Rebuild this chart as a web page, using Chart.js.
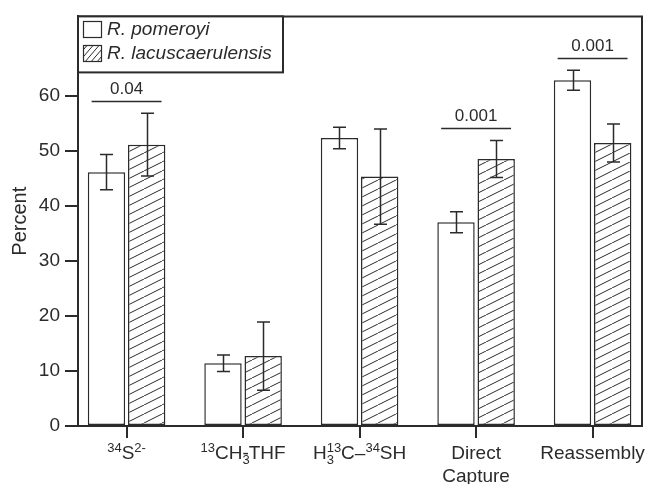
<!DOCTYPE html>
<html>
<head>
<meta charset="utf-8">
<script src="https://cdn.jsdelivr.net/npm/chart.js@4/dist/chart.umd.min.js"></script>
<style>
  html,body{margin:0;padding:0;background:#fff;}
  #c{display:block;}
</style>
</head>
<body>
<canvas id="c" width="648" height="484"></canvas>
<script>
// Data
const seriesNames = ["R. pomeroyi", "R. lacuscaerulensis"];
const positions = [0, 1, 2, 3, 4];
const pomeroyi = [46.1, 11.4, 52.3, 37.0, 62.8];
const pomeroyiErr = [3.2, 1.5, 1.95, 1.9, 1.8];
const lacus = [51.1, 12.7, 45.3, 48.5, 51.4];
const lacusErr = [5.7, 6.2, 8.65, 3.35, 3.45];
const yTicks = [0, 10, 20, 30, 40, 50, 60];
const sigLevels = [59.0, null, null, 54.2, 66.8];
const sigLabels = ["0.04", "", "", "0.001", "0.001"];
// category labels, split in pieces: n = normal, sup / sub, subz = no advance
const catLabels = [
  [["sup","34"],["n","S"],["sup","2-"]],
  [["sup","13"],["n","CH"],["subz","3"],["n","-THF"]],
  [["n","H"],["subz","3"],["sup","13"],["n","C\u2013"],["sup","34"],["n","SH"]],
  [["n","Direct"],["br",""],["n","Capture"]],
  [["n","Reassembly"]]
];

const INK = "#2b2b2b";
const FONT = '"Liberation Sans", Arial, sans-serif';
const cv = document.getElementById("c");
const cctx = cv.getContext("2d");

function hatch(w, h, lw){
  const t = document.createElement("canvas"); t.width = w; t.height = h;
  const g = t.getContext("2d");
  g.fillStyle = "#fff"; g.fillRect(0,0,w,h);
  g.strokeStyle = INK; g.lineWidth = lw;
  for (const dx of [-w, 0, w]){ g.beginPath(); g.moveTo(dx, h); g.lineTo(dx+w, 0); g.stroke(); }
  return cctx.createPattern(t, "repeat");
}
const barHatch = hatch(18, 9, 1);
const swatchHatch = hatch(6, 7, 1);

const pts = arr => positions.map((x,i)=>({x, y: arr[i]}));

// error bars + p-value brackets
const errPlugin = {
  id: "errbars",
  afterDatasetsDraw(chart){
    const ctx = chart.ctx, y = chart.scales.y, x = chart.scales.x;
    const errs = [pomeroyiErr, lacusErr];
    const vals = [pomeroyi, lacus];
    ctx.save();
    ctx.strokeStyle = INK; ctx.lineWidth = 1.5;
    chart.data.datasets.forEach((ds, di)=>{
      const meta = chart.getDatasetMeta(di);
      meta.data.forEach((bar, i)=>{
        const hi = y.getPixelForValue(vals[di][i] + errs[di][i]);
        const lo = y.getPixelForValue(vals[di][i] - errs[di][i]);
        const cx = Math.round(bar.x) + 0.5;
        ctx.beginPath();
        ctx.moveTo(cx, hi); ctx.lineTo(cx, lo);
        ctx.moveTo(cx-6.5, hi); ctx.lineTo(cx+6.5, hi);
        ctx.moveTo(cx-6.5, lo); ctx.lineTo(cx+6.5, lo);
        ctx.stroke();
      });
    });
    ctx.fillStyle = INK;
    ctx.font = "17px " + FONT;
    ctx.textAlign = "center"; ctx.textBaseline = "middle";
    sigLevels.forEach((lv, i)=>{
      if (lv == null) return;
      const py = Math.round(y.getPixelForValue(lv)) + 0.5;
      const x0 = x.getPixelForValue(positions[i] - 0.3), x1 = x.getPixelForValue(positions[i] + 0.3);
      ctx.beginPath(); ctx.moveTo(x0, py); ctx.lineTo(x1, py); ctx.stroke();
      ctx.fillText(sigLabels[i], (x0+x1)/2, py - 12);
    });
    ctx.restore();
  }
};

// frame, rich x labels, legend
const decoPlugin = {
  id: "deco",
  afterDraw(chart){
    const ctx = chart.ctx, a = chart.chartArea, x = chart.scales.x;
    ctx.save();
    ctx.strokeStyle = INK; ctx.lineWidth = 2;
    ctx.beginPath();
    ctx.moveTo(a.left-1, a.top); ctx.lineTo(a.right, a.top); ctx.lineTo(a.right, a.bottom+1);
    ctx.stroke();

    // category labels
    ctx.fillStyle = INK; ctx.textBaseline = "alphabetic"; ctx.textAlign = "left";
    const big = "19px " + FONT, small = "13px " + FONT;
    catLabels.forEach((parts, i)=>{
      const cx = x.getPixelForValue(positions[i]);
      const lines = [[]];
      parts.forEach(p=>{ if (p[0]==="br") lines.push([]); else lines[lines.length-1].push(p); });
      lines.forEach((line, li)=>{
        let w = 0;
        line.forEach(([k,t])=>{ ctx.font = k==="n" ? big : small; if (k!=="subz") w += ctx.measureText(t).width; });
        let px = cx - w/2;
        const base = 459 + li*23;
        line.forEach(([k,t])=>{
          ctx.font = k==="n" ? big : small;
          let dy = 0;
          if (k==="sup") dy = -7;
          if (k==="sub" || k==="subz") dy = 5;
          ctx.fillText(t, px, base + dy);
          if (k!=="subz") px += ctx.measureText(t).width;
        });
      });
    });

    // legend
    const lx = a.left, ly = a.top, lw = 205, lh = 56;
    ctx.fillStyle = "#fff"; ctx.fillRect(lx, ly, lw, lh);
    ctx.lineWidth = 2; ctx.strokeStyle = INK;
    ctx.strokeRect(lx, ly, lw, lh);
    const sw = [["#fff", 21.5], [swatchHatch, 45.5]];
    sw.forEach(([fill, sy], k)=>{
      ctx.fillStyle = fill; ctx.fillRect(83.5, sy, 18, 16);
      ctx.strokeStyle = INK; ctx.lineWidth = 1.2; ctx.strokeRect(83.5, sy, 18, 16);
      ctx.fillStyle = INK; ctx.font = "italic 19px " + FONT;
      ctx.textBaseline = "middle";
      ctx.fillText(seriesNames[k], 107, sy + 8.5);
    });
    ctx.restore();
  }
};

new Chart(cv, {
  type: "bar",
  data: {
    datasets: [
      { label: seriesNames[0], data: pts(pomeroyi), backgroundColor: "#fff", borderColor: INK, borderWidth: 1.5, borderSkipped: false },
      { label: seriesNames[1], data: pts(lacus), backgroundColor: barHatch, borderColor: INK, borderWidth: 1.5, borderSkipped: false }
    ]
  },
  options: {
    responsive: false,
    animation: false,
    devicePixelRatio: 1,
    layout: { padding: { top: 13, right: 6, left: 0, bottom: 0 } },
    datasets: { bar: { categoryPercentage: 0.69, barPercentage: 0.93 } },
    plugins: { legend: { display: false }, tooltip: { enabled: false } },
    scales: {
      x: {
        type: "linear", min: -0.417, max: 4.424, offset: false, bounds: "data",
        afterBuildTicks: s => { s.ticks = positions.map(v=>({value: v})); },
        afterFit: s => { s.height = 58; },
        ticks: { callback: () => "" },
        grid: { offset: false, drawOnChartArea: false, drawTicks: true, tickLength: 12, color: INK, lineWidth: 2 },
        border: { display: true, color: INK, width: 2 }
      },
      y: {
        min: 0, max: 74.4,
        afterBuildTicks: s => { s.ticks = yTicks.map(v=>({value: v})); },
        afterFit: s => { s.width = 78; },
        ticks: { color: INK, font: { family: FONT, size: 19 }, padding: 5 },
        grid: { drawOnChartArea: false, drawTicks: true, tickLength: 13, color: INK, lineWidth: 2 },
        border: { display: true, color: INK, width: 2 },
        title: { display: true, text: "Percent", color: INK, font: { family: FONT, size: 20 }, padding: { top: 8, bottom: 0 } }
      }
    }
  },
  plugins: [errPlugin, decoPlugin]
});
</script>
</body>
</html>
